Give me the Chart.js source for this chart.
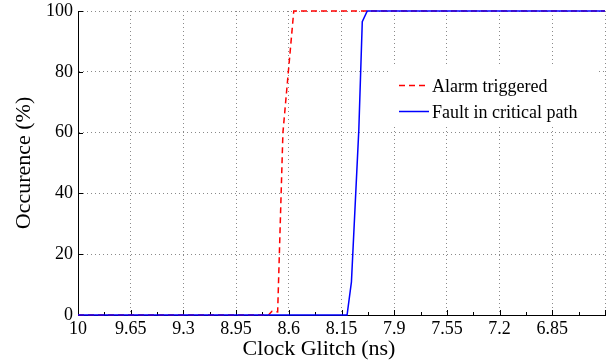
<!DOCTYPE html>
<html><head><meta charset="utf-8">
<script src="https://cdn.jsdelivr.net/npm/chart.js@4"></script>
<style>html,body{margin:0;padding:0;background:#fff}#wrap{width:610px;height:362px;position:relative}</style>
</head><body><div id="wrap"><canvas id="c" width="610" height="362"></canvas></div>
<script>
// ---- data ----
const alarmX = [10, 8.735, 8.712, 8.674, 8.639, 8.567, 6.5];
const alarmY = [0, 0, 1.2, 1, 60, 100, 100];
const faultX = [10, 8.213, 8.184, 8.135, 8.112, 8.079, 6.5];
const faultY = [0, 0, 10.9, 60.9, 96.5, 100, 100];
const xTickValues = [10, 9.65, 9.3, 8.95, 8.6, 8.25, 7.9, 7.55, 7.2, 6.85, 6.5];
const xTickLabels = ['10', '9.65', '9.3', '8.95', '8.6', '8.15', '7.9', '7.55', '7.2', '6.85', ''];
const yTickValues = [0, 20, 40, 60, 80, 100];
const seriesLabels = ['Alarm triggered', 'Fault in critical path'];
const xTitle = 'Clock Glitch (ns)';
const yTitle = 'Occurence (%)';

const FONT = 'Liberation Serif, Times New Roman, serif';
const toPts = (xs, ys) => xs.map((x, i) => ({x: x, y: ys[i]}));

const tickMarks = {
  id: 'tickMarks',
  beforeDatasetsDraw(chart) {
    const {ctx, chartArea: a, scales: {x, y}} = chart;
    ctx.save();
    ctx.strokeStyle = '#000';
    ctx.lineWidth = 1;
    ctx.beginPath();
    xTickValues.forEach((v, i) => {
      const px = Math.round(x.getPixelForValue(v)) + 0.5;
      ctx.moveTo(px, a.bottom); ctx.lineTo(px, a.bottom - 5);
      if (i < xTickValues.length - 1) {
        const mx = Math.round(x.getPixelForValue((v + xTickValues[i + 1]) / 2)) + 0.5;
        ctx.moveTo(mx, a.bottom); ctx.lineTo(mx, a.bottom - 3);
      }
    });
    yTickValues.forEach(v => {
      const py = Math.round(y.getPixelForValue(v)) + 0.5;
      ctx.moveTo(a.left, py); ctx.lineTo(a.left + 5, py);
    });
    ctx.stroke();
    ctx.restore();
  }
};

const boxLegend = {
  id: 'boxLegend',
  afterDatasetsDraw(chart) {
    const {ctx} = chart;
    ctx.save();
    ctx.fillStyle = '#fff';
    ctx.fillRect(391, 66, 207, 58);
    const rows = [85.5, 111.5];
    chart.data.datasets.forEach((ds, i) => {
      ctx.beginPath();
      ctx.strokeStyle = ds.borderColor;
      ctx.lineWidth = ds.borderWidth;
      ctx.setLineDash(ds.borderDash || []);
      ctx.moveTo(399, rows[i]); ctx.lineTo(429, rows[i]);
      ctx.stroke();
      ctx.setLineDash([]);
      ctx.fillStyle = '#000';
      ctx.font = '18px ' + FONT;
      ctx.textBaseline = 'alphabetic';
      ctx.textAlign = 'left';
      ctx.fillText(ds.label, 432, rows[i] + 6.3);
    });
    ctx.restore();
  }
};

const xAxisTitle = {
  id: 'xAxisTitle',
  afterDraw(chart) {
    const {ctx} = chart;
    ctx.save();
    ctx.fillStyle = '#000';
    ctx.font = '22px ' + FONT;
    ctx.textAlign = 'center';
    ctx.textBaseline = 'alphabetic';
    ctx.fillText(xTitle, 319, 355);
    ctx.restore();
  }
};

new Chart(document.getElementById('c'), {
  type: 'line',
  data: {
    datasets: [
      {label: seriesLabels[0], data: toPts(alarmX, alarmY), borderColor: '#ff0000', borderWidth: 1.5,
       borderDash: [6, 4], pointRadius: 0, tension: 0, fill: false, clip: false, order: 1},
      {label: seriesLabels[1], data: toPts(faultX, faultY), borderColor: '#0000ff', borderWidth: 1.5,
       pointRadius: 0, tension: 0, fill: false, clip: false, order: 0}
    ]
  },
  options: {
    responsive: false,
    animation: false,
    devicePixelRatio: 1,
    layout: {padding: {top: 11, right: 5, left: 0, bottom: 0}},
    plugins: {legend: {display: false}, tooltip: {enabled: false}},
    scales: {
      x: {
        type: 'linear', reverse: true, min: 6.5, max: 10,
        afterBuildTicks: s => { s.ticks = xTickValues.map(v => ({value: v})); },
        afterFit: s => { s.height = 47; s.paddingLeft = 0; s.paddingRight = 0; },
        ticks: {
          autoSkip: false, maxRotation: 0, padding: 3, color: '#000',
          font: {family: FONT, size: 18},
          callback: (v, i) => xTickLabels[i]
        },
        grid: {color: '#8a8a8a', lineWidth: 1, drawTicks: false},
        border: {display: true, color: '#000', width: 1, dash: [1, 3]}
      },
      y: {
        min: 0, max: 100,
        afterBuildTicks: s => { s.ticks = yTickValues.map(v => ({value: v})); },
        afterFit: s => { s.width = 78; s.paddingTop = 0; s.paddingBottom = 0; },
        ticks: {padding: 5, color: '#000', font: {family: FONT, size: 18}},
        grid: {color: '#8a8a8a', lineWidth: 1, drawTicks: false},
        border: {display: true, color: '#000', width: 1, dash: [1, 3]},
        title: {display: true, text: yTitle, color: '#000', font: {family: FONT, size: 22}, padding: {top: 11, bottom: 0}}
      }
    }
  },
  plugins: [tickMarks, boxLegend, xAxisTitle]
});
</script>
</body></html>
